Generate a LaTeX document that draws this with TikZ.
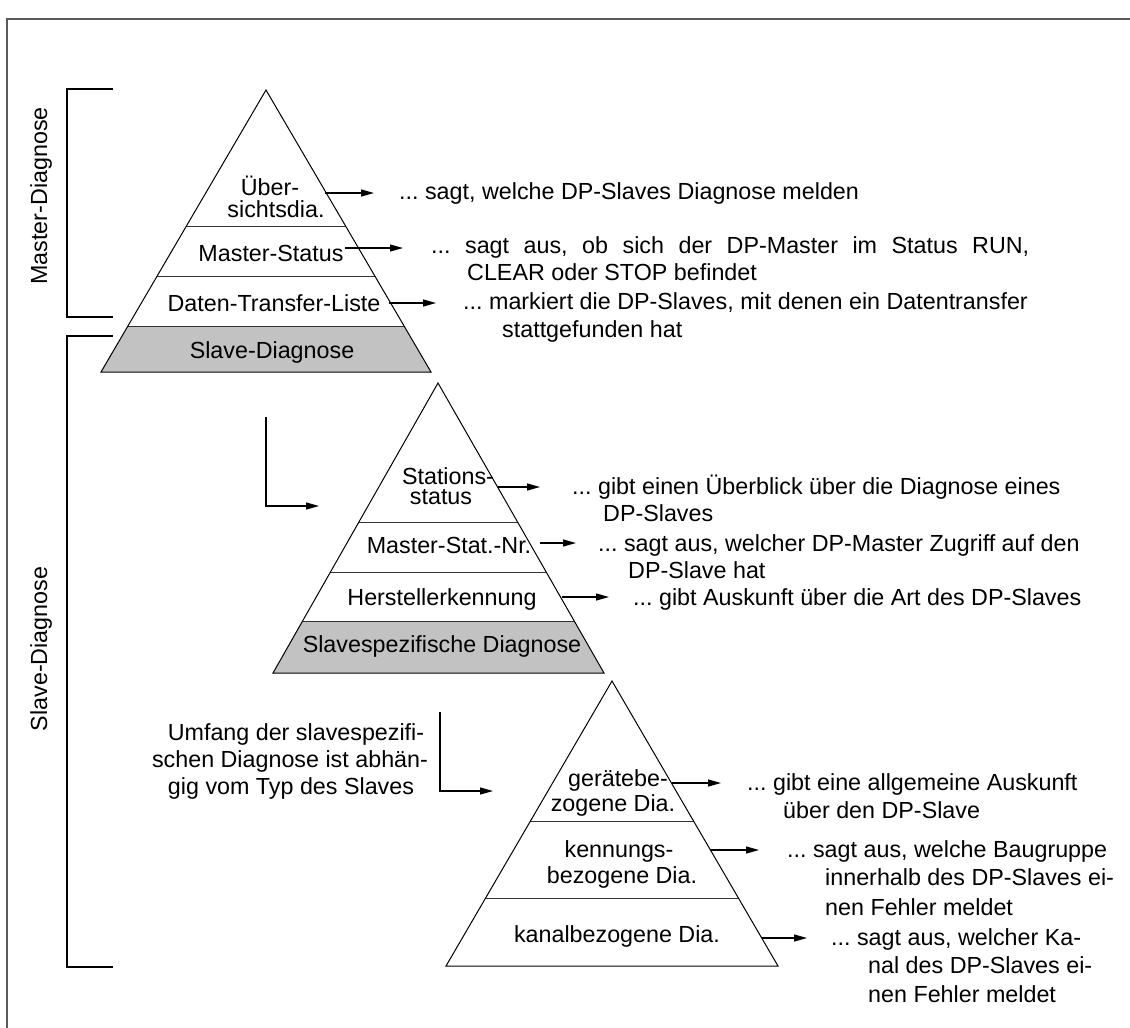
\documentclass[tikz,border=0pt]{standalone}
\usepackage{fontspec}
\setmainfont{Liberation Sans}
\usetikzlibrary{arrows.meta,calc}
\tikzset{
  txt/.style={inner sep=0pt, font=\fontsize{23.3}{27}\selectfont\frenchspacing},
  lbl/.style={txt, anchor=base west},
  ctr/.style={txt, anchor=base},
  pyr/.style={draw=black, line width=1pt},
  divider/.style={draw=black!80, line width=1pt},
  band/.style={fill=black!24},
  arr/.style={draw=black, line width=1.2pt, -{Triangle[length=13pt,width=7pt]}},
  brack/.style={draw=black, line width=2.6pt},
  frame/.style={draw=black!65, line width=2pt}
}
\begin{document}
\begin{tikzpicture}[x=1pt,y=-1pt]
\useasboundingbox (0,0) rectangle (1130,1028);
\fill[white] (0,0) rectangle (1130,1028);
% frame
\draw[frame] (7,1028) -- (7,19) -- (1130,19);

% brackets
\draw[brack] (113,89) -- (67,89) -- (67,317) -- (113,317);
\draw[brack] (113,336) -- (67,336) -- (67,967) -- (113,967);
\node[txt, rotate=90] (lmaster) at (41,196) {Master-Diagnose};
\node[txt, rotate=90] (lslave) at (41,649) {Slave-Diagnose};

% ---------- pyramid 1
\coordinate (p1t) at (266,90);
\coordinate (p1l) at (101,372);
\coordinate (p1r) at (431,372);
\fill[band] ($(p1t)!0.8404!(p1l)$) -- ($(p1t)!0.8404!(p1r)$) -- (p1r) -- (p1l) -- cycle;
\draw[divider] ($(p1t)!0.4858!(p1l)$) -- ($(p1t)!0.4858!(p1r)$);
\draw[divider] ($(p1t)!0.6631!(p1l)$) -- ($(p1t)!0.6631!(p1r)$);
\draw[divider] ($(p1t)!0.8404!(p1l)$) -- ($(p1t)!0.8404!(p1r)$);
\draw[pyr] (p1t) -- (p1r) -- (p1l) -- cycle;
\node[ctr] (a1a) at (270,195) {Über-};
\node[ctr] (a1b) at (276,217) {sichtsdia.};
\node[ctr] (a2) at (271,261) {Master-Status};
\node[ctr] (a3) at (274,311) {Daten-Transfer-Liste};
\node[ctr] (a4) at (272,358) {Slave-Diagnose};

\node[lbl] (d1) at (399,199) {... sagt, welche DP-Slaves Diagnose melden};
\node[lbl] (d2a) at (431,253) {\hbox to 598pt{... sagt aus, ob sich der DP-Master im Status RUN,}};
\node[lbl] (d2b) at (467,280) {CLEAR oder STOP befindet};
\node[lbl] (d3a) at (463,309) {... markiert die DP-Slaves, mit denen ein Datentransfer};
\node[lbl] (d3b) at (502,337) {stattgefunden hat};

\coordinate (s1) at (325,193); \coordinate (e1) at (374,193);
\coordinate (s2) at (345,248); \coordinate (e2) at (403,248);
\coordinate (s3) at (389,303); \coordinate (e3) at (436,303);
\draw[arr] (s1) -- (e1);
\draw[arr] (s2) -- (e2);
\draw[arr] (s3) -- (e3);

% ---------- pyramid 2
\coordinate (p2t) at (438,383);
\coordinate (p2l) at (273,673);
\coordinate (p2r) at (604,673);
\fill[band] ($(p2t)!0.8241!(p2l)$) -- ($(p2t)!0.8241!(p2r)$) -- (p2r) -- (p2l) -- cycle;
\draw[divider] ($(p2t)!0.4793!(p2l)$) -- ($(p2t)!0.4793!(p2r)$);
\draw[divider] ($(p2t)!0.6517!(p2l)$) -- ($(p2t)!0.6517!(p2r)$);
\draw[divider] ($(p2t)!0.8241!(p2l)$) -- ($(p2t)!0.8241!(p2r)$);
\draw[pyr] (p2t) -- (p2r) -- (p2l) -- cycle;
\node[ctr] (b1a) at (448,484) {Stations-};
\node[ctr] (b1b) at (441,504) {status};
\node[ctr] (b2) at (449,553) {Master-Stat.-Nr.};
\node[ctr] (b3) at (442,605) {Herstellerkennung};
\node[ctr] (b4) at (442,652) {Slavespezifische Diagnose};

\node[lbl] (e1a) at (572,494) {... gibt einen Überblick über die Diagnose eines};
\node[lbl] (e1b) at (603,521) {DP-Slaves};
\node[lbl] (e2a) at (598,551) {... sagt aus, welcher DP-Master Zugriff auf den};
\node[lbl] (e2b) at (628,578) {DP-Slave hat};
\node[lbl] (e3t) at (633,605) {... gibt Auskunft über die Art des DP-Slaves};

\coordinate (t1) at (498,487); \coordinate (u1) at (540,487);
\coordinate (t2) at (540,543); \coordinate (u2) at (576,543);
\coordinate (t3) at (562,597); \coordinate (u3) at (609,597);
\draw[arr] (t1) -- (u1);
\draw[arr] (t2) -- (u2);
\draw[arr] (t3) -- (u3);

\coordinate (k1s) at (266,417); \coordinate (k1e) at (319,506);
\draw[arr] (k1s) |- (k1e);

% ---------- pyramid 3
\coordinate (p3t) at (612,681);
\coordinate (p3l) at (446,966);
\coordinate (p3r) at (778,966);
\draw[divider] ($(p3t)!0.4912!(p3l)$) -- ($(p3t)!0.4912!(p3r)$);
\draw[divider] ($(p3t)!0.7614!(p3l)$) -- ($(p3t)!0.7614!(p3r)$);
\draw[pyr] (p3t) -- (p3r) -- (p3l) -- cycle;
\node[ctr] (c1a) at (618,786) {gerätebe-};
\node[ctr] (c1b) at (613,811) {zogene Dia.};
\node[ctr] (c2a) at (619,857) {kennungs-};
\node[ctr] (c2b) at (622,883) {bezogene Dia.};
\node[ctr] (c3) at (617,942) {kanalbezogene Dia.};

\node[lbl] (f1a) at (747,790) {... gibt eine allgemeine Auskunft};
\node[lbl] (f1b) at (783,818) {über den DP-Slave};
\node[lbl] (f2a) at (787,857) {... sagt aus, welche Baugruppe};
\node[lbl] (f2b) at (825,885) {innerhalb des DP-Slaves ei-};
\node[lbl] (f2c) at (825,915) {nen Fehler meldet};
\node[lbl] (f3a) at (831,945) {... sagt aus, welcher Ka-};
\node[lbl] (f3b) at (868,973) {nal des DP-Slaves ei-};
\node[lbl] (f3c) at (868,1002) {nen Fehler meldet};

\coordinate (v1) at (672,783); \coordinate (w1) at (721,783);
\coordinate (v2) at (710,850); \coordinate (w2) at (759,850);
\coordinate (v3) at (762,938); \coordinate (w3) at (807,938);
\draw[arr] (v1) -- (w1);
\draw[arr] (v2) -- (w2);
\draw[arr] (v3) -- (w3);

\node[ctr] (umf1) at (296,740) {Umfang der slavespezifi-};
\node[ctr] (umf2) at (290,767) {schen Diagnose ist abhän-};
\node[ctr] (umf3) at (291,794) {gig vom Typ des Slaves};
\coordinate (k2s) at (440,712); \coordinate (k2e) at (493,791);
\draw[arr] (k2s) |- (k2e);
\end{tikzpicture}
\end{document}
